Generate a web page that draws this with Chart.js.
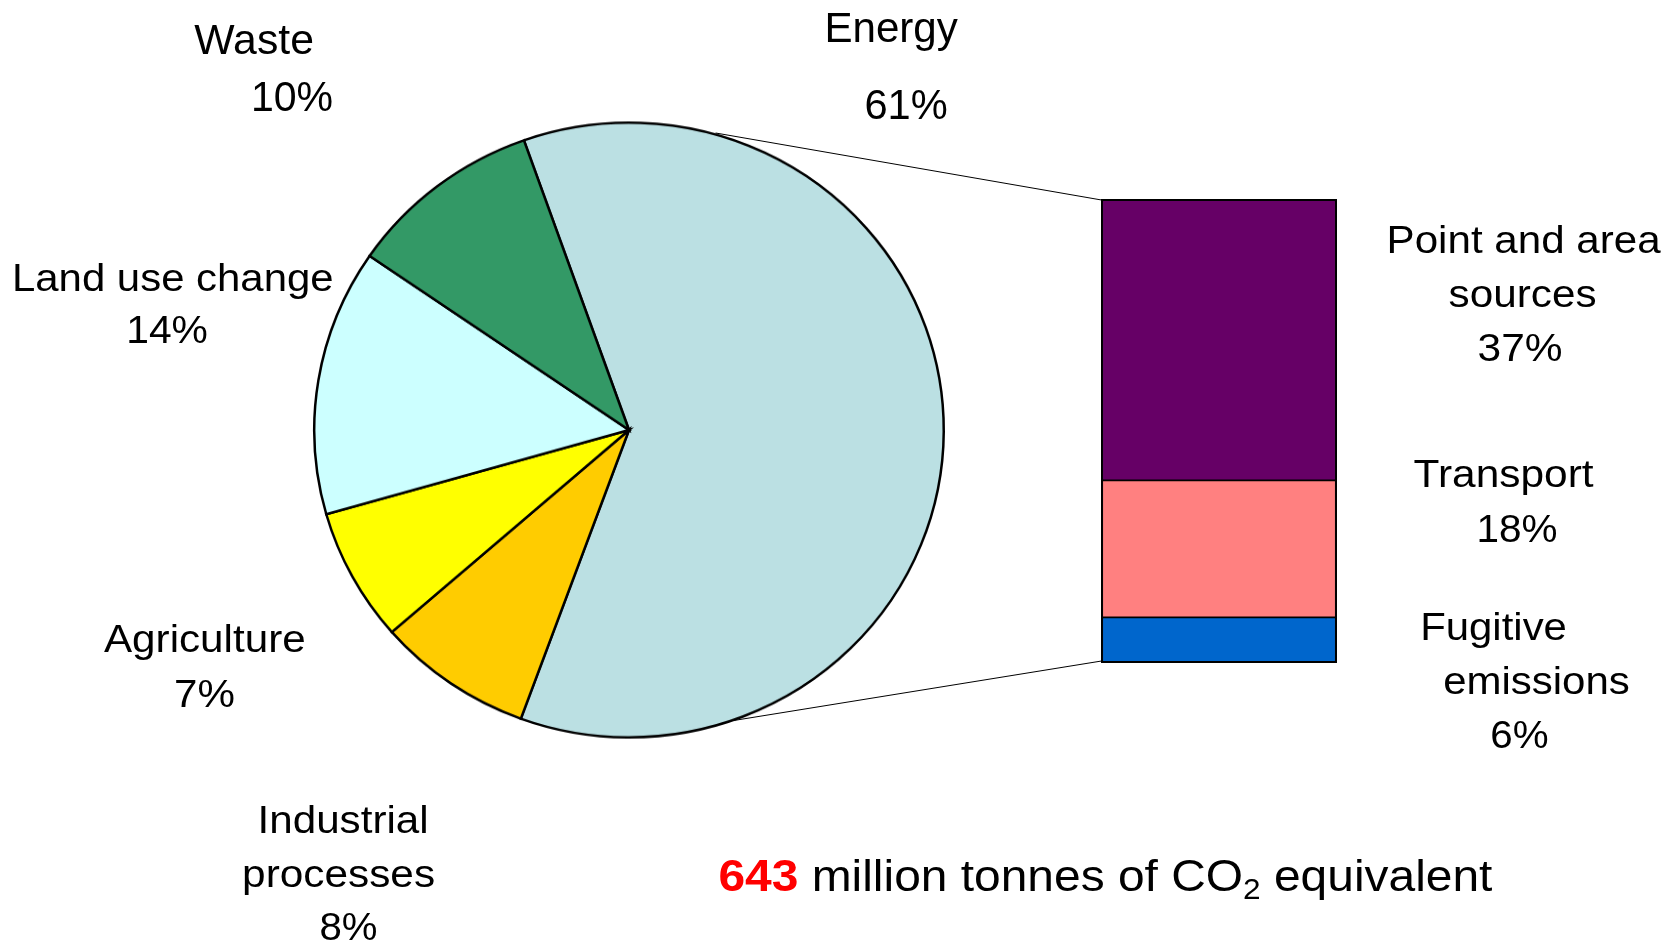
<!DOCTYPE html>
<html>
<head>
<meta charset="utf-8">
<script src="https://cdn.jsdelivr.net/npm/chart.js@4/dist/chart.umd.min.js"></script>
<style>
  html, body { margin: 0; padding: 0; background: #fff; width: 1674px; height: 946px; overflow: hidden; }
  body { position: relative; font-family: "Liberation Sans", Arial, sans-serif; color: #000; }
  #pieBox { position: absolute; left: 308.5px; top: 109.6px; width: 640px; height: 640px; transform: scaleY(0.9766); transform-origin: 50% 50%; }
  #barBox { position: absolute; left: 1101px; top: 199px; width: 236px; height: 464px; }
  #links { position: absolute; left: 0; top: 0; pointer-events: none; }
  .lbl { position: absolute; white-space: nowrap; line-height: 1; transform-origin: 50% 50%; }
  .lbl sub { font-size: 0.66em; vertical-align: -0.28em; line-height: 0; }
</style>
</head>
<body>
<div id="pieBox"><canvas id="pie" width="640" height="640"></canvas></div>
<div id="barBox"><canvas id="bar" width="236" height="464"></canvas></div>
<canvas id="links" width="1674" height="946"></canvas>

<script>
// ---- data ----
const pieCategories = ['Energy', 'Industrial processes', 'Agriculture', 'Land use change', 'Waste'];
const pieValues = [61, 8, 7, 14, 10];

// energy split, listed from the bottom of the column upwards
const energyCategories = ['Fugitive emissions', 'Transport', 'Point and area sources'];
const energyValues = [6, 18, 37];

const totalEmissions = 643;
const totalUnitText = 'million tonnes of CO';
const totalUnitSub = '2';
const totalUnitTail = ' equivalent';

// ---- styles ----
const pieColors = ['#BBE0E3', '#FFCC00', '#FFFF00', '#CCFFFF', '#339966'];
const energyColors = ['#0066CC', '#FF8080', '#660066'];
const FONT = '"Liberation Sans", Arial, sans-serif';
const PIE_SCALE_Y = 0.9766;

// label layout: words per line, font size, and for each line [centre x, baseline y, width]
const pieLabelLayout = [
  { wrap: [1], size: 43, lines: [[890.9, 42, 133.4], [906.4, 119, 83.3]] },
  { wrap: [1, 1], size: 38, lines: [[343.5, 833.3, 171], [338.5, 886.7, 193], [348.3, 940, 58]] },
  { wrap: [1], size: 38, lines: [[204.4, 652, 201.7], [204.4, 707.5, 60.9]] },
  { wrap: [3], size: 38, lines: [[172.5, 290.7, 321.7], [167.5, 343.3, 81.7]] },
  { wrap: [1], size: 43, lines: [[254, 54.5, 119.6], [292, 111, 82.2]] }
];
const energyLabelLayout = [
  { wrap: [1, 1], size: 38, lines: [[1493.3, 640, 146.7], [1536.7, 694, 186.7], [1519, 748.3, 58.3]] },
  { wrap: [1], size: 38, lines: [[1504, 486.7, 180], [1516.7, 541.7, 81]] },
  { wrap: [3, 1], size: 38, lines: [[1523.5, 253.5, 274], [1522.5, 307, 148], [1520, 361, 85]] }
];

// ---- pie ----
const pieChart = new Chart(document.getElementById('pie'), {
  type: 'pie',
  data: {
    labels: pieCategories,
    datasets: [{
      data: pieValues,
      backgroundColor: pieColors,
      borderColor: '#000',
      borderWidth: 2.5,
      borderJoinStyle: 'miter'
    }]
  },
  options: {
    responsive: false,
    devicePixelRatio: 1,
    animation: false,
    rotation: -19.5,
    layout: { padding: 4 },
    plugins: { legend: { display: false }, tooltip: { enabled: false } }
  }
});

// ---- energy column ----
const lastIdx = energyValues.length - 1;
const barChart = new Chart(document.getElementById('bar'), {
  type: 'bar',
  data: {
    labels: ['Energy'],
    datasets: energyValues.map((v, i) => ({
      label: energyCategories[i],
      data: [v],
      backgroundColor: energyColors[i],
      borderColor: '#000',
      borderSkipped: false,
      borderWidth: {
        left: 2.4, right: 2.4,
        top: i === lastIdx ? 2.4 : 1.2,
        bottom: i === 0 ? 2.4 : 1.2
      },
      categoryPercentage: 1,
      barPercentage: 1
    }))
  },
  options: {
    responsive: false,
    devicePixelRatio: 1,
    animation: false,
    layout: { padding: 0 },
    scales: {
      x: { stacked: true, display: false },
      y: { stacked: true, display: false, min: 0, max: energyValues.reduce((a, b) => a + b, 0) }
    },
    plugins: { legend: { display: false }, tooltip: { enabled: false } }
  }
});

// ---- connector lines from the energy slice to the column ----
(function drawLinks() {
  const ctx = document.getElementById('links').getContext('2d');
  const pieBox = document.getElementById('pieBox');
  const barBox = document.getElementById('barBox');
  const px0 = parseFloat(getComputedStyle(pieBox).left);
  const py0 = parseFloat(getComputedStyle(pieBox).top);
  const bx0 = parseFloat(getComputedStyle(barBox).left);
  const by0 = parseFloat(getComputedStyle(barBox).top);

  const arc = pieChart.getDatasetMeta(0).data[0];
  const half = 320;
  function piePoint(degFromTop) {
    const a = (degFromTop - 90) * Math.PI / 180;
    const r = arc.outerRadius + 1.2;
    const x = arc.x + r * Math.cos(a);
    const y = arc.y + r * Math.sin(a);
    return [px0 + x, py0 + half + (y - half) * PIE_SCALE_Y];
  }
  const topSeg = barChart.getDatasetMeta(lastIdx).data[0];
  const botSeg = barChart.getDatasetMeta(0).data[0];
  const left = bx0 + topSeg.x - topSeg.width / 2;
  const topY = by0 + topSeg.y;
  const botY = by0 + botSeg.base;

  ctx.strokeStyle = '#000';
  ctx.lineWidth = 1;
  const p1 = piePoint(16);
  const p2 = piePoint(160.5);
  ctx.beginPath();
  ctx.moveTo(p1[0], p1[1]); ctx.lineTo(left + 0.5, topY + 1);
  ctx.moveTo(p2[0], p2[1]); ctx.lineTo(left + 0.5, botY - 2);
  ctx.stroke();
})();

// ---- labels ----
function placeLine(html, cx, baseline, width, size, extra) {
  const el = document.createElement('div');
  el.className = 'lbl';
  el.style.fontSize = size + 'px';
  el.style.fontFamily = FONT;
  if (extra) Object.assign(el.style, extra);
  el.innerHTML = html;
  document.body.appendChild(el);
  const w = el.getBoundingClientRect().width;
  el.style.left = (cx - w / 2) + 'px';
  el.style.top = (baseline - 0.8465 * size) + 'px';
  el.style.transform = 'scaleX(' + (width / w).toFixed(4) + ')';
}

function labelLines(name, wrap) {
  const words = name.split(' ');
  const out = [];
  let k = 0;
  wrap.forEach(n => { out.push(words.slice(k, k + n).join(' ')); k += n; });
  return out;
}

function drawLabels(names, values, layout) {
  names.forEach((name, i) => {
    const L = layout[i];
    const texts = labelLines(name, L.wrap).concat([values[i] + '%']);
    texts.forEach((t, j) => {
      const [cx, base, w] = L.lines[j];
      placeLine(t, cx, base, w, L.size);
    });
  });
}

drawLabels(pieCategories, pieValues, pieLabelLayout);
drawLabels(energyCategories, energyValues, energyLabelLayout);

placeLine(
  '<span style="color:#FF0000;font-weight:bold">' + totalEmissions + '</span> ' +
  totalUnitText + '<sub>' + totalUnitSub + '</sub>' + totalUnitTail,
  1105.5, 891, 774, 44
);
</script>
</body>
</html>
